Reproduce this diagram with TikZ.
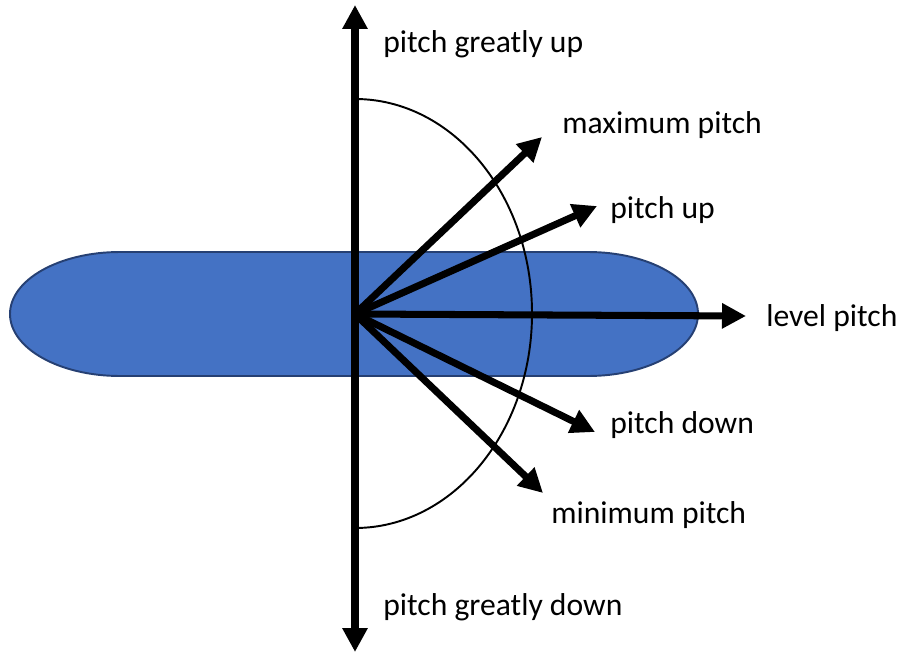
\documentclass[tikz,border=0pt]{standalone}
\usepackage{fontspec}
\setmainfont{Carlito}
\usepackage{xcolor}
\usepackage{tikz}
\usetikzlibrary{arrows.meta,positioning,calc}
\definecolor{bodyblue}{RGB}{68,114,196}
\definecolor{bodyedge}{RGB}{38,64,115}

\begin{document}
\begin{tikzpicture}[
    x=0.02cm, y=-0.02cm,
    body/.style={fill=bodyblue, draw=bodyedge, line width=1.1pt},
    sweep/.style={draw=black, line width=1.1pt},
    pitcharrow/.style={-{Triangle[length=0.48cm, width=0.48cm]}, line width=4pt},
    lbl/.style={anchor=base west, inner sep=0pt, font=\fontsize{18}{22}\selectfont}
]
\useasboundingbox (0,0) rectangle (901,655);
% aircraft body
\draw[body] (120,252) -- (588,252)
    arc[start angle=-90, end angle=90, x radius=110, y radius=62]
    -- (120,376)
    arc[start angle=90, end angle=270, x radius=110, y radius=62] -- cycle;
% pitch range
\draw[sweep] (355,99) arc[start angle=-90, end angle=90, x radius=177, y radius=214.5];
% arrow ends
\coordinate (o) at (355,314);
\coordinate (uptip) at (355,5);
\coordinate (downtip) at (355,652);
\coordinate (maxtip) at (542,137);
\coordinate (uptip2) at (597,206);
\coordinate (leveltip) at (746,316);
\coordinate (downtip2) at (595,432);
\coordinate (mintip) at (543,493);
\draw[pitcharrow, {Triangle[length=0.48cm, width=0.48cm]}-{Triangle[length=0.48cm, width=0.48cm]}] (uptip) -- (downtip);
\draw[pitcharrow] (o) -- (maxtip);
\draw[pitcharrow] (o) -- (uptip2);
\draw[pitcharrow] (o) -- (leveltip);
\draw[pitcharrow] (o) -- (downtip2);
\draw[pitcharrow] (o) -- (mintip);
% labels
\node[lbl] (greatup) at (383,53) {pitch greatly up};
\node[lbl] (maxpitch) at (562,133) {maximum pitch};
\node[lbl] (pitchup) at (610,218) {pitch up};
\node[lbl] (level) at (766,326) {level pitch};
\node[lbl] (pitchdown) at (610,433) {pitch down};
\node[lbl] (minpitch) at (551,523) {minimum pitch};
\node[lbl] (greatdown) at (383,615) {pitch greatly down};
\end{tikzpicture}
\end{document}
